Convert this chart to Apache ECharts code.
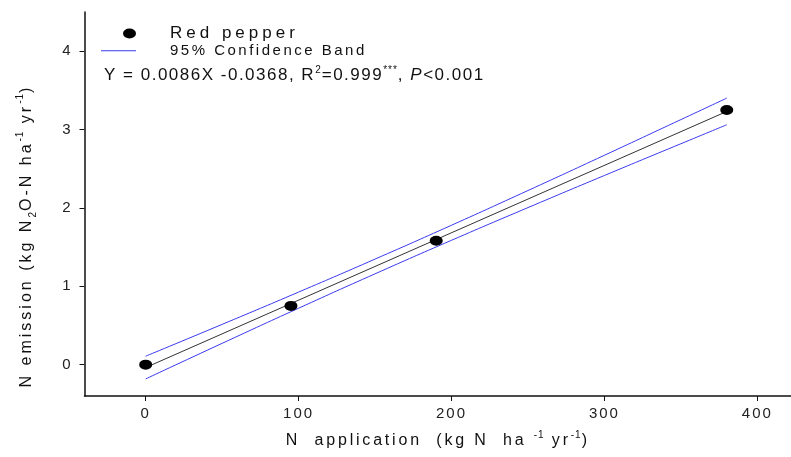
<!DOCTYPE html>
<html>
<head>
<meta charset="utf-8">
<script src="https://cdn.jsdelivr.net/npm/echarts@6/dist/echarts.min.js"></script>
<style>
html,body{margin:0;padding:0;background:#fff;}
#chart{width:791px;height:457px;}
</style>
</head>
<body>
<div id="chart"></div>
<script>
// Letter spacing support: a font family marker "lsN" sets canvas letterSpacing to N px
(function(){
  var proto = CanvasRenderingContext2D.prototype;
  var d = Object.getOwnPropertyDescriptor(proto, 'font');
  if (!d || !('letterSpacing' in proto)) return;
  Object.defineProperty(proto, 'font', {
    configurable:true,
    get:function(){ return d.get.call(this); },
    set:function(v){
      d.set.call(this, v);
      var m = /ls(\d+(?:p\d+)?)/.exec(v);
      this.letterSpacing = m ? m[1].replace('p','.') + 'px' : '0px';
    }
  });
})();

// Observed data (Red pepper)
var nApplication = [0, 95, 190, 380];
var nEmission = [0.00, 0.75, 1.58, 3.25];
// Regression line Y = 0.0086X - 0.0368 (endpoints)
var fitX = [0, 380];
var fitY = [-0.037, 3.231];
// 95% confidence band
var bandX = [0, 50, 100, 150, 200, 250, 300, 350, 380];
var bandUpper = [0.108, 0.514, 0.926, 1.347, 1.779, 2.222, 2.672, 3.127, 3.401];
var bandLower = [-0.182, 0.272, 0.720, 1.159, 1.587, 2.004, 2.414, 2.819, 3.061];
var xTicks = [0, 100, 200, 300, 400];
var yTicks = [0, 1, 2, 3, 4];

function pairs(xs, ys){ return xs.map(function(x,i){ return [x, ys[i]]; }); }
function fam(ls){ return '"ls' + ls + '", "Liberation Sans", Arial, sans-serif'; }

var chart = echarts.init(document.getElementById('chart'), null, {renderer:'canvas'});
chart.setOption({
  animation:false,
  backgroundColor:'#ffffff',
  grid:{left:84.5, top:12, right:0, bottom:61, containLabel:false, outerBoundsMode:'none'},
  legend:{
    left:101, top:23, orient:'vertical', itemWidth:35, itemHeight:10, itemGap:-2, padding:0,
    data:[
      {name:'Red pepper', icon:'path://M0,5 M22,5 A6.5,5 0 1 1 35,5 A6.5,5 0 1 1 22,5 Z',
       textStyle:{fontFamily:fam(4), fontSize:17, lineHeight:17, color:'#111', padding:[0,0,0,29]}},
      {name:'95% Confidence Band', icon:'path://M0,4.5 L35,4.5 L35,5.5 L0,5.5 Z',
       textStyle:{fontFamily:fam('2p5'), fontSize:15, lineHeight:17, color:'#111', padding:[0,0,0,29]}}
    ],
    textStyle:{fontFamily:fam(4), fontSize:17, lineHeight:17, color:'#111', padding:[0,0,0,29]}
  },
  xAxis:{
    type:'value', min:-40, max:422, interval:100,
    axisLine:{show:true, onZero:false, lineStyle:{color:'#111', width:1.5}},
    axisTick:{show:true, length:5, inside:false, lineStyle:{color:'#111'}, customValues:xTicks},
    axisLabel:{fontFamily:fam(2), fontSize:15, color:'#222', margin:9, customValues:xTicks},
    splitLine:{show:false},
    name:'{a|N  application  (kg N  ha }{s|-1}{a| yr}{s|-1}{a|)}',
    nameLocation:'middle', nameGap:34,
    nameTextStyle:{rich:{
      a:{fontFamily:fam('2p8'), fontSize:16, color:'#111', lineHeight:20, verticalAlign:'bottom'},
      s:{fontFamily:fam(1), fontSize:10, color:'#111', lineHeight:20, verticalAlign:'top'}
    }}
  },
  yAxis:{
    type:'value', min:-0.4, max:4.5, interval:1,
    axisLine:{show:true, onZero:false, lineStyle:{color:'#111', width:1.5}},
    axisTick:{show:true, length:5, inside:false, lineStyle:{color:'#111'}, customValues:yTicks},
    axisLabel:{fontFamily:fam(2), fontSize:15, color:'#222', margin:12, customValues:yTicks},
    splitLine:{show:false}
  },
  graphic:[
    {
      type:'text', left:104, top:65,
      style:{
        text:'{a|Y = 0.0086X -0.0368, R}{s|2}{a|=0.999}{s|***}{a|, }{i|P}{a|<0.001}',
        rich:{
          a:{fontFamily:fam('1p5'), fontSize:17, fill:'#111', lineHeight:20, verticalAlign:'bottom'},
          s:{fontFamily:fam(1), fontSize:10, fill:'#111', lineHeight:20, verticalAlign:'top'},
          i:{fontFamily:fam('1p5'), fontSize:17, fontStyle:'italic', fill:'#111', lineHeight:20, verticalAlign:'bottom'}
        }
      }
    },
    {
      type:'text', x:27, y:236, rotation:Math.PI/2,
      style:{
        text:'{a|N emission (kg N}{b|2}{a|O-N ha}{s|-1}{a| yr}{s|-1}{a|)}',
        align:'center', verticalAlign:'middle',
        rich:{
          a:{fontFamily:fam(3), fontSize:16, fill:'#111', lineHeight:24, verticalAlign:'middle'},
          s:{fontFamily:fam(1), fontSize:10, fill:'#111', lineHeight:24, verticalAlign:'top'},
          b:{fontFamily:fam(1), fontSize:10, fill:'#111', lineHeight:24, verticalAlign:'bottom'}
        }
      }
    }
  ],
  series:[
    {
      name:'95% Confidence Band', type:'line', data:pairs(bandX, bandUpper),
      smooth:true, showSymbol:false, symbol:'none',
      lineStyle:{color:'#3a3af0', width:1}, itemStyle:{color:'#3a3af0'}, z:2
    },
    {
      name:'95% Confidence Band', type:'line', data:pairs(bandX, bandLower),
      smooth:true, showSymbol:false, symbol:'none',
      lineStyle:{color:'#3a3af0', width:1}, itemStyle:{color:'#3a3af0'}, z:2
    },
    {
      name:'Regression', type:'line', data:pairs(fitX, fitY),
      showSymbol:false, symbol:'none',
      lineStyle:{color:'#333', width:1}, z:3
    },
    {
      name:'Red pepper', type:'scatter', data:pairs(nApplication, nEmission),
      symbol:'circle', symbolSize:[13,10], itemStyle:{color:'#000', opacity:1}, z:4
    }
  ]
});
</script>
</body>
</html>
